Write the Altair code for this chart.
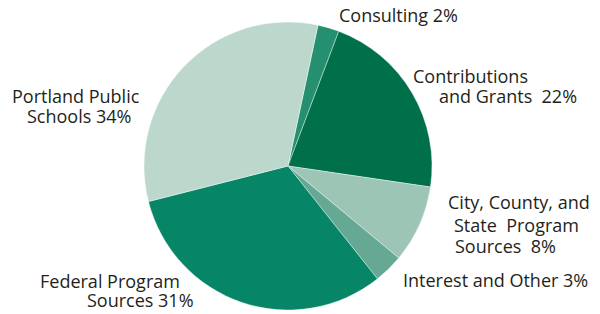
import math
import altair as alt
import pandas as pd

categories = ["Consulting", "Contributions and Grants", "City, County, and State Program Sources",
              "Interest and Other", "Federal Program Sources", "Portland Public Schools"]
# slice sizes as drawn in the picture (percent of the whole)
values = [2.4, 21.6, 8.7, 3.3, 31.7, 32.3]
colors = ["#24906f", "#00704a", "#9cc5b6", "#65a893", "#078567", "#bcd8cc"]

df = pd.DataFrame({"category": categories, "value": values, "order": list(range(len(values)))})

offset = math.radians(12.0)

pie = alt.Chart(df).mark_arc(radius=144, stroke="white", strokeWidth=0.4).encode(
    theta=alt.Theta("value:Q", stack=True, scale=alt.Scale(range=[offset, offset + 2 * math.pi])),
    order=alt.Order("order:Q"),
    color=alt.Color("category:N", scale=alt.Scale(domain=categories, range=colors), legend=None),
    x=alt.value(280),
    y=alt.value(158),
)

label_lines = [
    ("Consulting 2%", 331, 14),
    ("Contributions", 405, 75),
    ("and Grants\u00a0 22%", 431, 95),
    ("City, County, and", 440, 201),
    ("State\u00a0 Program", 446, 224),
    ("Sources\u00a0 8%", 447, 245),
    ("Interest and Other 3%", 395, 279),
    ("Federal Program", 32, 280),
    ("Sources 31%", 79, 299),
    ("Portland Public", 4, 95),
    ("Schools 34%", 19, 115),
]

layers = [pie]
for txt, lx, ly in label_lines:
    layers.append(
        alt.Chart(df.head(1)).mark_text(
            text=txt, align="left", baseline="alphabetic", font="Open Sans",
            fontSize=18, color="#231f20"
        ).encode(x=alt.value(lx), y=alt.value(ly))
    )

chart = alt.layer(*layers).properties(
    width=584, height=306, padding=0, autosize=alt.AutoSizeParams(type="none")
).configure_view(stroke=None)

chart.save("out.html", embed_options={"renderer": "svg", "actions": False})
